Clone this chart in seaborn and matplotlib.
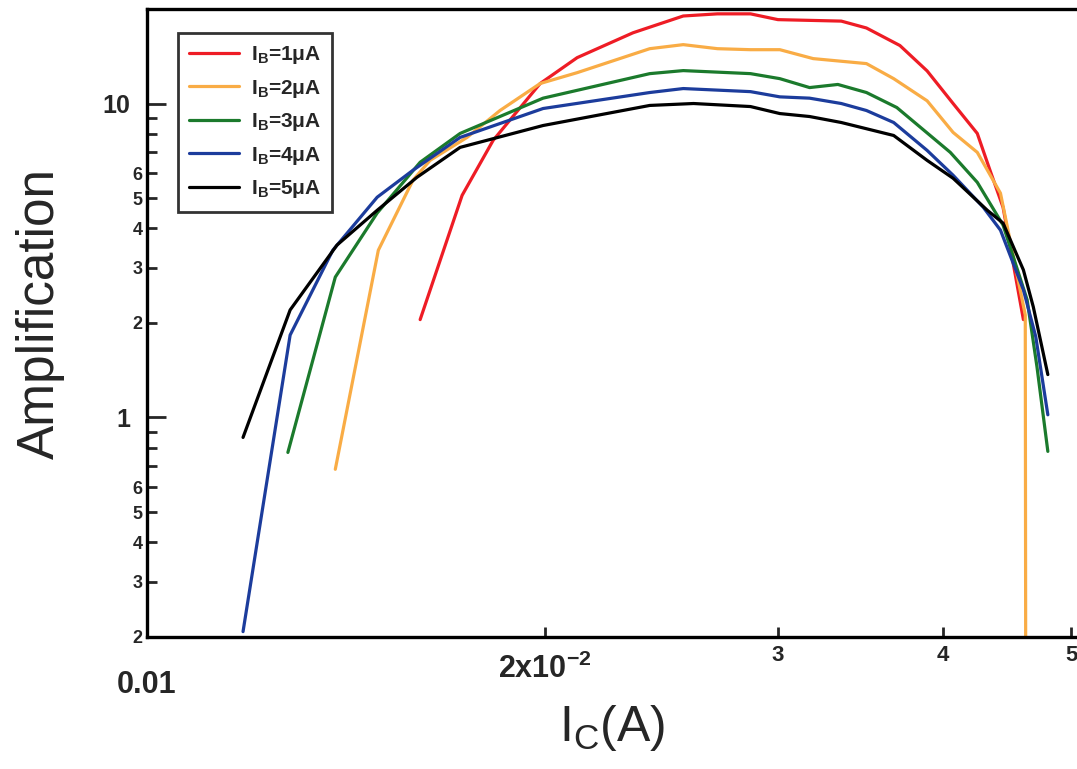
import matplotlib
matplotlib.use('Agg')
import matplotlib.pyplot as plt
import seaborn as sns
import pandas as pd
from matplotlib.lines import Line2D
from matplotlib.ticker import FixedLocator, FixedFormatter, NullLocator

# collector current (A) vs amplification, one pair of lists per base current
ic_1ua = [0.01609, 0.01731, 0.01827, 0.01983, 0.02115, 0.02331, 0.02544, 0.0270, 0.0286,
          0.0300, 0.0335, 0.0350, 0.0371, 0.0389, 0.0407, 0.04245, 0.0434, 0.0444, 0.0460]
amp_1ua = [2.05, 5.1, 7.63, 11.58, 14.0, 16.8, 19.0, 19.3, 19.3,
           18.5, 18.3, 17.4, 15.3, 12.7, 10.0, 8.03, 6.13, 4.67, 2.05]

ic_2ua = [0.01388, 0.01496, 0.01589, 0.01637, 0.01746, 0.01849, 0.01983, 0.02115, 0.0240,
          0.02544, 0.0270, 0.0286, 0.0301, 0.0319, 0.0350, 0.0367, 0.0389, 0.0407, 0.04245,
          0.0442, 0.04615, 0.0462]
amp_2ua = [0.684, 3.41, 5.70, 6.59, 7.80, 9.5, 11.58, 12.54, 14.95,
           15.4, 14.95, 14.84, 14.84, 13.9, 13.4, 12.0, 10.2, 8.09, 6.99,
           5.18, 2.12, 0.05]

ic_3ua = [0.01278, 0.01388, 0.01493, 0.01609, 0.01725, 0.01993, 0.0240, 0.02544, 0.0286,
          0.0301, 0.0317, 0.0333, 0.0350, 0.0369, 0.0405, 0.04245, 0.0444, 0.0463, 0.0471, 0.0480]
amp_3ua = [0.774, 2.80, 4.48, 6.50, 8.03, 10.4, 12.45, 12.73, 12.45,
           12.0, 11.24, 11.5, 10.84, 9.71, 6.99, 5.61, 4.10, 2.37, 1.45, 0.78]

ic_4ua = [0.01182, 0.01283, 0.01382, 0.01493, 0.01589, 0.01725, 0.01993, 0.0240, 0.02544,
          0.0286, 0.0301, 0.0317, 0.0335, 0.0350, 0.0367, 0.0389, 0.0407, 0.0429, 0.0442,
          0.0460, 0.0470, 0.0480]
amp_4ua = [0.208, 1.83, 3.41, 5.03, 6.13, 7.80, 9.64, 10.84, 11.16,
           10.91, 10.5, 10.4, 10.0, 9.5, 8.70, 7.09, 5.91, 4.67, 3.95,
           2.55, 1.81, 1.02]

ic_5ua = [0.01182, 0.01283, 0.01392, 0.01493, 0.0160, 0.01725, 0.01993, 0.0240, 0.0259,
          0.0286, 0.0301, 0.0317, 0.0335, 0.0367, 0.0389, 0.0407, 0.0432, 0.0444, 0.0460,
          0.0468, 0.0480]
amp_5ua = [0.864, 2.20, 3.54, 4.57, 5.82, 7.25, 8.51, 9.86, 10.0,
           9.78, 9.29, 9.09, 8.70, 7.91, 6.59, 5.78, 4.57, 4.16, 2.95,
           2.25, 1.37]

series_names = ['1', '2', '3', '4', '5']
series_colors = ['#ee1c25', '#f9ac45', '#1b7a2c', '#1c3c9c', '#000000']

x_ticks = [0.01, 0.02, 0.03, 0.04, 0.05]
x_labels = ['0.01', '2x10$^{\\mathbf{-2}}$', '3', '4', '5']
y_major = [1, 10]
y_major_labels = ['1', '10']
y_minor = [0.2, 0.3, 0.4, 0.5, 0.6, 0.7, 0.8, 0.9, 2, 3, 4, 5, 6, 7, 8, 9]
y_minor_labels = ['2', '3', '4', '5', '6', '', '', '', '2', '3', '4', '5', '6', '', '', '']

frames = []
for name, xs, ys in zip(series_names,
                        [ic_1ua, ic_2ua, ic_3ua, ic_4ua, ic_5ua],
                        [amp_1ua, amp_2ua, amp_3ua, amp_4ua, amp_5ua]):
    frames.append(pd.DataFrame({'Ic': xs, 'Amp': ys, 'Ib': name}))
df = pd.concat(frames, ignore_index=True)

sns.set_style('ticks')
plt.rcParams['font.family'] = ['Liberation Sans', 'DejaVu Sans']
plt.rcParams['mathtext.fontset'] = 'custom'
plt.rcParams['mathtext.rm'] = 'Liberation Sans'
plt.rcParams['mathtext.bf'] = 'Liberation Sans:bold'

fig = plt.figure(figsize=(10.77, 7.69), dpi=100)
ax = fig.add_axes([0.1365, 0.1717, 0.8635, 0.8166])

sns.lineplot(data=df, x='Ic', y='Amp', hue='Ib', palette=series_colors,
             estimator=None, sort=False, linewidth=2.3, legend=False, ax=ax)

ax.set_xscale('log')
ax.set_yscale('log')
ax.set_xlim(0.01, 0.0505)
ax.set_ylim(0.2, 20)

for side in ['left', 'bottom', 'top']:
    ax.spines[side].set_linewidth(2.4)
    ax.spines[side].set_color('black')
ax.spines['right'].set_visible(False)

# x axis: all labelled ticks as majors
ax.xaxis.set_major_locator(FixedLocator(x_ticks))
ax.xaxis.set_major_formatter(FixedFormatter(x_labels))
ax.xaxis.set_minor_locator(NullLocator())
ax.tick_params(axis='x', which='major', direction='in', length=7, width=2,
               top=False, labelsize=16)
for lab in ax.get_xticklabels():
    lab.set_fontweight('bold')
xlabs = ax.get_xticklabels()
xlabs[0].set_fontsize(22)
xlabs[1].set_fontsize(22)
ax.xaxis.get_major_ticks()[0].tick1line.set_markersize(14)

# y axis
ax.yaxis.set_major_locator(FixedLocator(y_major))
ax.yaxis.set_major_formatter(FixedFormatter(y_major_labels))
ax.yaxis.set_minor_locator(FixedLocator(y_minor))
ax.yaxis.set_minor_formatter(FixedFormatter(y_minor_labels))
ax.tick_params(axis='y', which='major', direction='in', length=14, width=2,
               right=False, labelsize=18, pad=12)
ax.tick_params(axis='y', which='minor', direction='in', length=7, width=2,
               right=False, labelsize=13, pad=3)
for lab in ax.get_yticklabels(which='both'):
    lab.set_fontweight('bold')

ax.set_xlabel(r'I$_\mathregular{C}$(A)', fontsize=36)
ax.set_ylabel('Amplification', fontsize=37)
ax.xaxis.set_label_coords(0.5, -0.105)
ax.yaxis.set_label_coords(-0.088, 0.515)

handles = [Line2D([0], [0], color=c, lw=2.3) for c in series_colors]
labels = [r'I$_\mathbf{B}$=' + n + 'μA' for n in series_names]
leg = ax.legend(handles, labels, loc='upper left', bbox_to_anchor=(0.033, 0.962),
                borderaxespad=0, fancybox=False, frameon=True, handlelength=2.4,
                handletextpad=0.55, labelspacing=0.55, borderpad=0.55,
                prop={'size': 15, 'weight': 'bold'})
leg.get_frame().set_edgecolor('black')
leg.get_frame().set_linewidth(2)

for t in ax.xaxis.get_major_ticks():
    t.set_pad(6)
ax.xaxis.get_major_ticks()[0].set_pad(24)
ax.xaxis.get_major_ticks()[1].set_pad(12)

fig.savefig('out.png', dpi=100)
